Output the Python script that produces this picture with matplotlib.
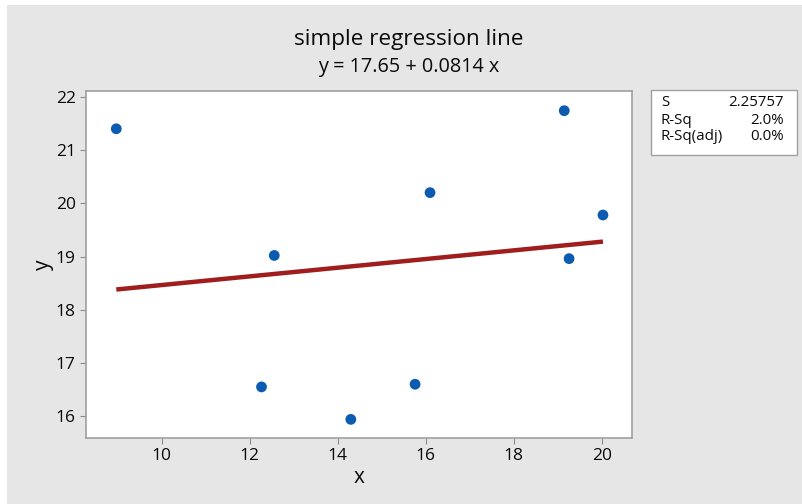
import matplotlib
matplotlib.use("Agg")
import matplotlib.pyplot as plt
from matplotlib.patches import Rectangle
import numpy as np

x_vals = [8.97, 12.27, 12.56, 14.30, 15.76, 16.10, 19.15, 19.26, 20.03]
y_vals = [21.40, 16.55, 19.02, 15.94, 16.60, 20.20, 21.74, 18.96, 19.78]
intercept = 17.65
slope = 0.0814
x_ticks = [10, 12, 14, 16, 18, 20]
y_ticks = [16, 17, 18, 19, 20, 21, 22]
stat_names = ["S", "R-Sq", "R-Sq(adj)"]
stat_values = ["2.25757", "2.0%", "0.0%"]

plt.rcParams['font.family'] = ['Open Sans', 'DejaVu Sans']
plt.rcParams['font.weight'] = 'medium'

W, H = 802, 504
fig = plt.figure(figsize=(W / 100, H / 100), dpi=100)
fig.patch.set_facecolor('white')
fig.patches.append(Rectangle((7 / W, 0), 1 - 7 / W, 1 - 5 / H, transform=fig.transFigure,
                             facecolor='#E6E6E6', edgecolor='none', zorder=-5))

ax = fig.add_axes([85.5 / W, 1 - 438 / H, (632 - 85.5) / W, (438 - 91) / H])
ax.set_zorder(1)
ax.set_facecolor('white')
ax.set_xlim(8.27, 20.69)
ax.set_ylim(15.59, 22.11)

xl = np.array([min(x_vals), max(x_vals)])
ax.plot(xl, intercept + slope * xl, color='#A01D1D', lw=3.2, solid_capstyle='butt', zorder=2)
ax.scatter(x_vals, y_vals, s=60, color='#0B5BB0', edgecolors='none', zorder=3)

ax.set_xticks(x_ticks)
ax.set_yticks(y_ticks)
ax.tick_params(axis='both', length=4, width=0.8, color='#888888', labelsize=12.5,
               labelcolor='#0A0A0A', pad=3)
for s in ax.spines.values():
    s.set_color('#A0A0A0')
    s.set_linewidth(1.2)

ax.set_xlabel('x', fontsize=15, color='#0A0A0A', labelpad=2.5)
ax.set_ylabel('y', fontsize=15, color='#0A0A0A', labelpad=1.5)

fig.text(409 / W, 1 - 40 / H, 'simple regression line', ha='center', va='center',
         fontsize=16.2, color='#0A0A0A')
fig.text(409 / W, 1 - 67 / H, 'y = %.2f + %.4f x' % (intercept, slope), ha='center', va='center',
         fontsize=14.3, color='#0A0A0A')

# stats box
fig.patches.append(Rectangle((651 / W, 1 - 155 / H), (797 - 651) / W, (155 - 90) / H,
                             transform=fig.transFigure, facecolor='white',
                             edgecolor='#A0A0A0', lw=1.0, zorder=1))
for i, (n, v) in enumerate(zip(stat_names, stat_values)):
    yy = 1 - (103 + i * 17) / H
    fig.text(661 / W, yy, n, ha='left', va='center', fontsize=10.8, color='#0A0A0A', zorder=3)
    fig.text(784 / W, yy, v, ha='right', va='center', fontsize=10.8, color='#0A0A0A', zorder=3)

fig.savefig('out.png', dpi=100, facecolor=fig.get_facecolor())
